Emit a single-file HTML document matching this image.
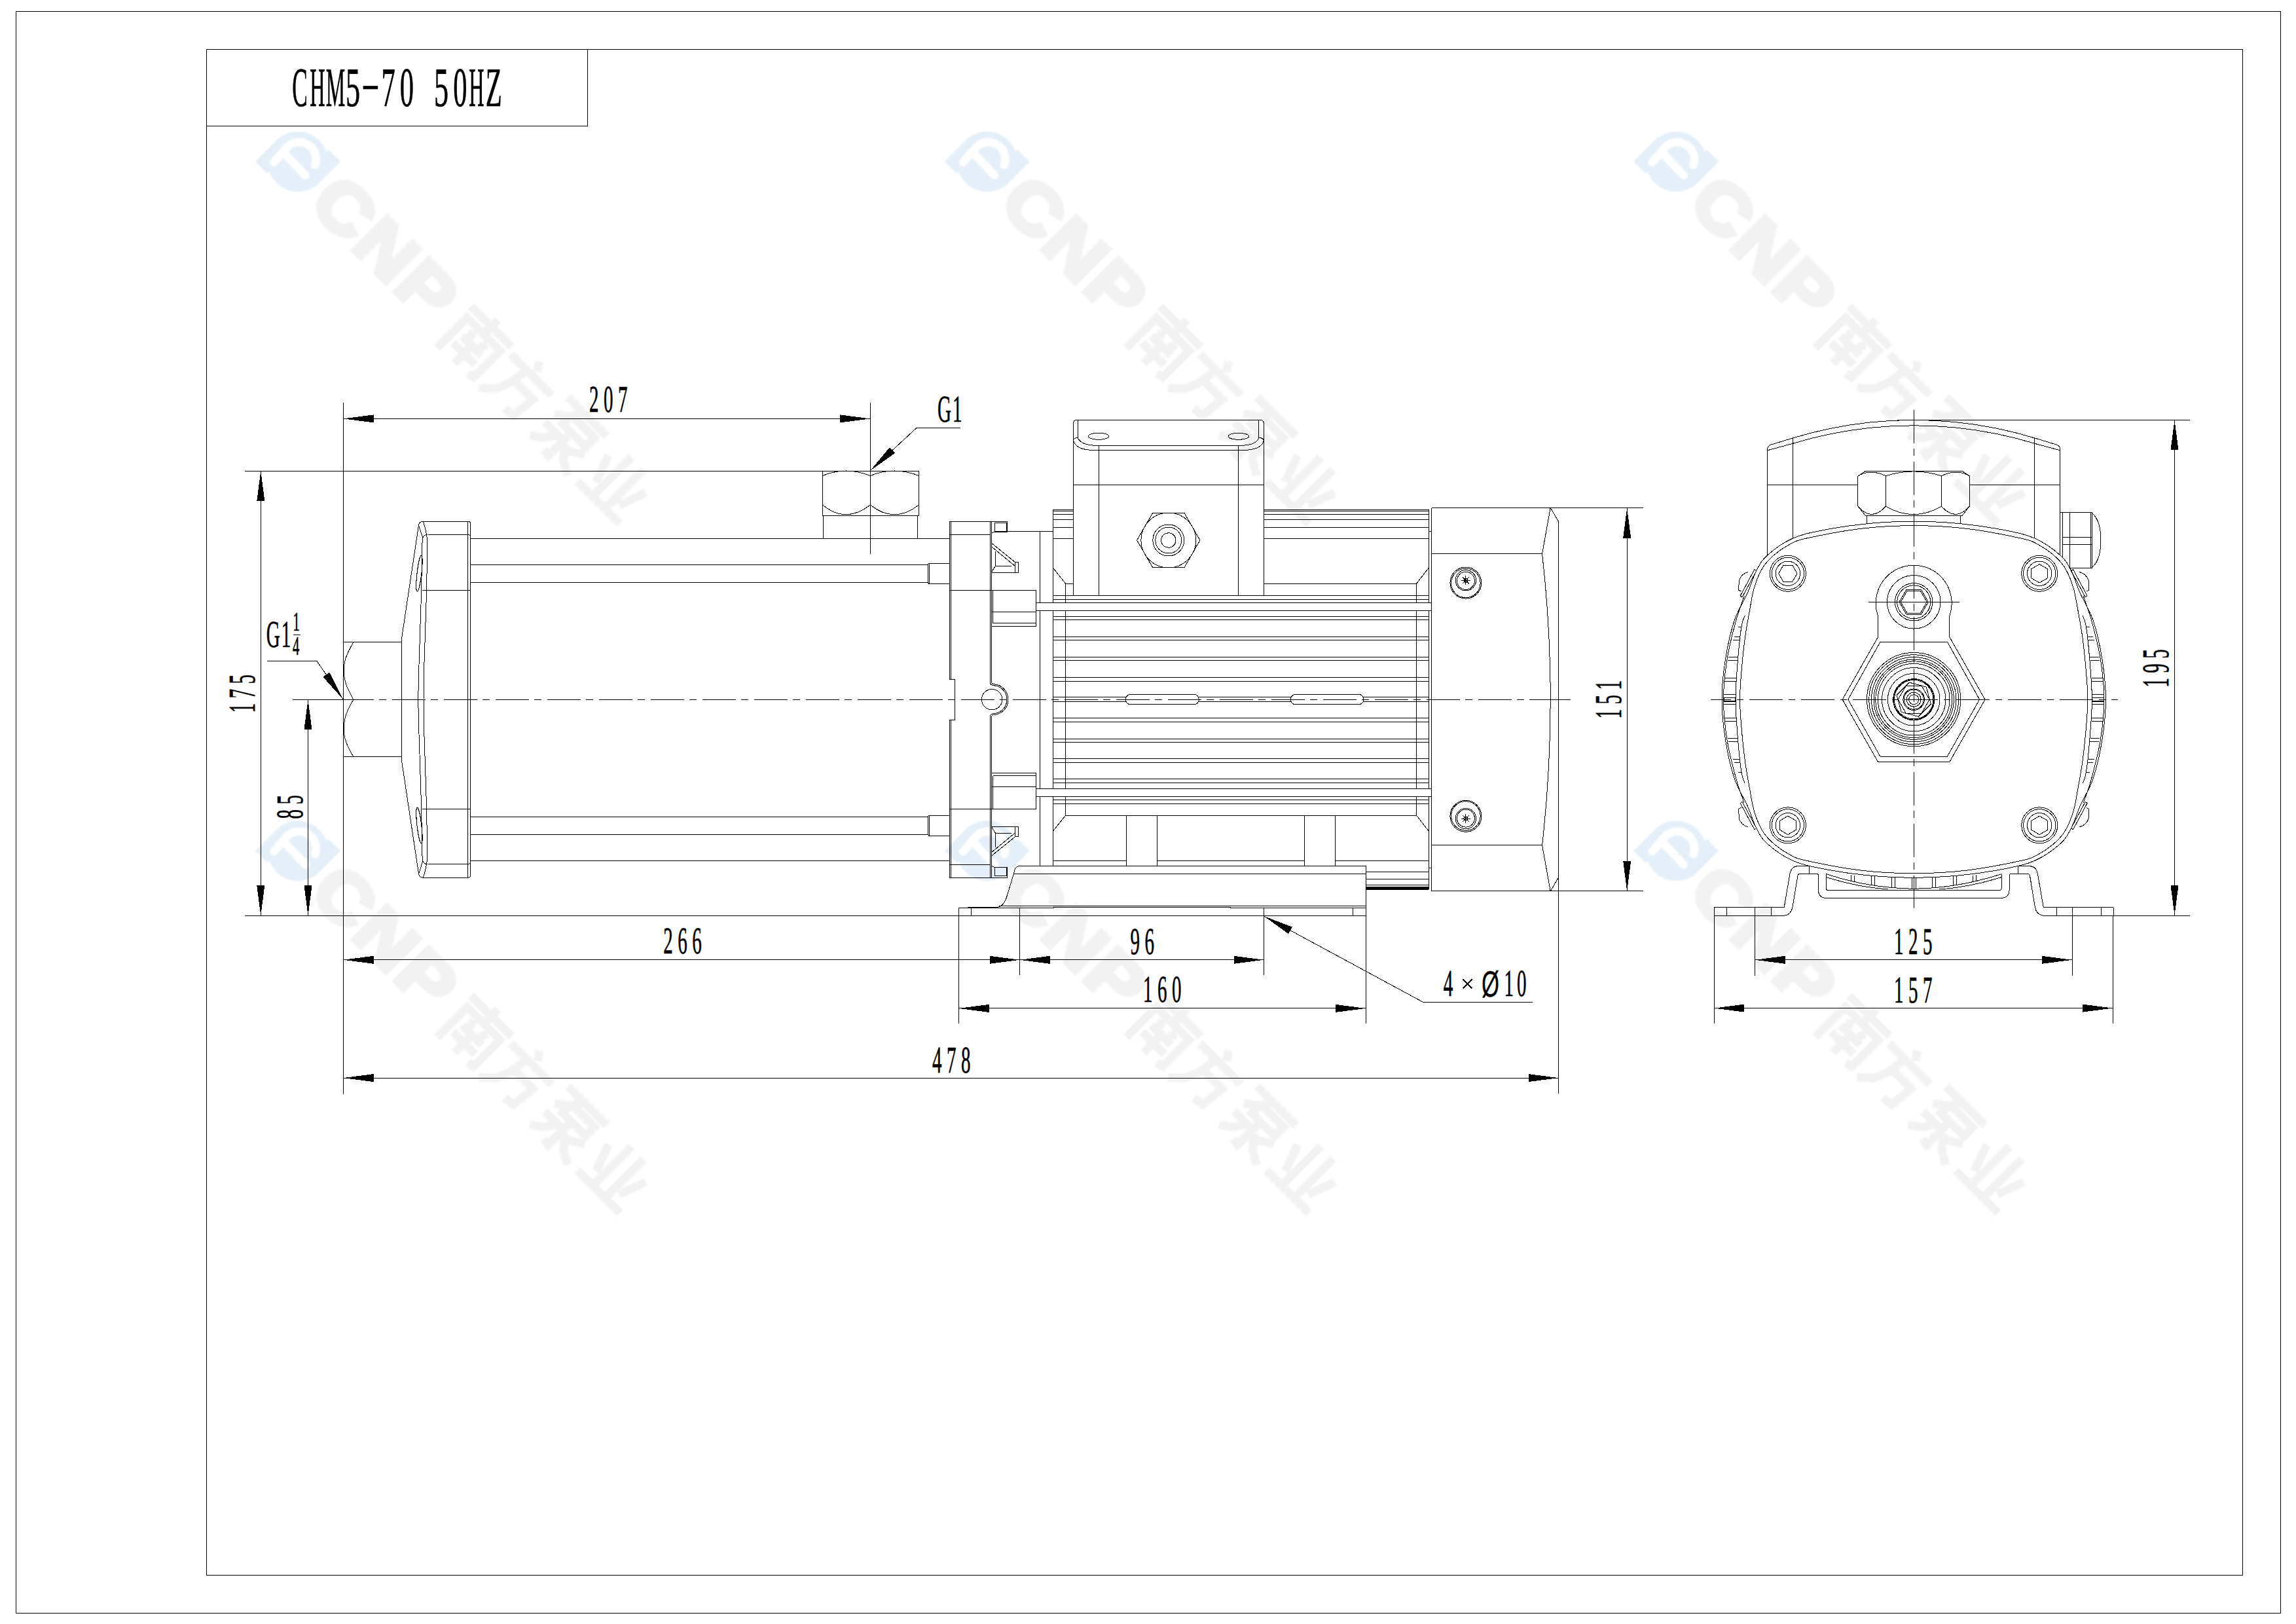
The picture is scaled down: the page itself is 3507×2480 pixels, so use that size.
<!DOCTYPE html>
<html><head><meta charset="utf-8"><title>CHM5-70 50HZ</title>
<style>
html,body{margin:0;padding:0;background:#fff;}
body{width:3507px;height:2480px;overflow:hidden;font-family:"Liberation Serif",serif;}
svg{display:block;}
svg text{font-family:"Liberation Serif",serif;fill:#000;stroke:#000;stroke-width:0.7px;text-rendering:geometricPrecision;}
svg .wm text{font-family:"Liberation Sans",sans-serif;font-weight:bold;}
</style></head><body>
<svg width="3507" height="2480" viewBox="0 0 3507 2480" fill="none" stroke="#000" stroke-width="1.0" stroke-linecap="butt" stroke-linejoin="miter" shape-rendering="crispEdges">
<rect x="0" y="0" width="3507" height="2480" fill="#fff" stroke="none"/>
<g shape-rendering="geometricPrecision">
<g class="wm" transform="translate(455 246.8) rotate(45)" style="filter:blur(1px)">
<circle cx="0" cy="0" r="46" fill="#e4eff9" stroke="none"/>
<path d="M-46 -9L-46 46L-20 46L-20 38Z M46 9L46 -46L20 -46L20 -38Z" fill="#e4eff9" stroke="none"/>
<g transform="rotate(-45)" stroke="#fff" stroke-width="12.5" stroke-linecap="round" fill="none"><path d="M-36.6 1L-16.7 -22A26 26 0 0 1 26.2 5.2"/><path d="M-18.8 -10.5L11.5 20.9"/></g>
<text transform="translate(58 36.5) scale(1.12 1)" font-size="106" letter-spacing="4" style="fill:#f2f2f2;stroke:#f2f2f2;stroke-width:7.5px;stroke-linejoin:miter">CNP</text>
<path d="M342.8 -30.6L431.2 -30.6" stroke="#f2f2f2" stroke-width="13" stroke-linejoin="miter" stroke-linecap="butt"/>
<path d="M387 -45L387 -16.2" stroke="#f2f2f2" stroke-width="13" stroke-linejoin="miter" stroke-linecap="butt"/>
<path d="M351.5 51L351.5 -14.3L422.5 -14.3L422.5 43.3L412 45.2" stroke="#f2f2f2" stroke-width="13" stroke-linejoin="miter" stroke-linecap="butt"/>
<path d="M371.6 -6.6L377.4 4.9" stroke="#f2f2f2" stroke-width="13" stroke-linejoin="miter" stroke-linecap="butt"/>
<path d="M402.4 -6.6L396.6 4.9" stroke="#f2f2f2" stroke-width="13" stroke-linejoin="miter" stroke-linecap="butt"/>
<path d="M365.9 10.7L408.1 10.7" stroke="#f2f2f2" stroke-width="13" stroke-linejoin="miter" stroke-linecap="butt"/>
<path d="M363 28L411 28" stroke="#f2f2f2" stroke-width="13" stroke-linejoin="miter" stroke-linecap="butt"/>
<path d="M387 10.7L387 49.1" stroke="#f2f2f2" stroke-width="13" stroke-linejoin="miter" stroke-linecap="butt"/>
<path d="M476.2 -45L485.8 -31.6" stroke="#f2f2f2" stroke-width="13" stroke-linejoin="miter" stroke-linecap="butt"/>
<path d="M437.8 -22L526.2 -22" stroke="#f2f2f2" stroke-width="13" stroke-linejoin="miter" stroke-linecap="butt"/>
<path d="M472.4 -22L468.6 7.8L459 31.8L439.8 49.1" stroke="#f2f2f2" stroke-width="13" stroke-linejoin="miter" stroke-linecap="butt"/>
<path d="M470.5 3L510.8 3L507 41.4L489.7 43.3" stroke="#f2f2f2" stroke-width="13" stroke-linejoin="miter" stroke-linecap="butt"/>
<path d="M545.8 -37.3L630.2 -37.3" stroke="#f2f2f2" stroke-width="13" stroke-linejoin="miter" stroke-linecap="butt"/>
<path d="M580.3 -37.3L568.8 -18.1L549.6 -4.7" stroke="#f2f2f2" stroke-width="13" stroke-linejoin="miter" stroke-linecap="butt"/>
<path d="M568.8 -22L618.7 -22L618.7 -2.8L568.8 -2.8L568.8 -22" stroke="#f2f2f2" stroke-width="13" stroke-linejoin="miter" stroke-linecap="butt"/>
<path d="M588 3L588 47.2L576.5 45.2" stroke="#f2f2f2" stroke-width="13" stroke-linejoin="miter" stroke-linecap="butt"/>
<path d="M547.7 14.5L576.5 14.5L563 33.7L545.8 45.2" stroke="#f2f2f2" stroke-width="13" stroke-linejoin="miter" stroke-linecap="butt"/>
<path d="M626.4 6.8L601.4 22.2" stroke="#f2f2f2" stroke-width="13" stroke-linejoin="miter" stroke-linecap="butt"/>
<path d="M593.8 16.4L609.1 35.6L630.2 48.1" stroke="#f2f2f2" stroke-width="13" stroke-linejoin="miter" stroke-linecap="butt"/>
<path d="M679.6 -41.2L679.6 41.4" stroke="#f2f2f2" stroke-width="13" stroke-linejoin="miter" stroke-linecap="butt"/>
<path d="M706.4 -41.2L706.4 41.4" stroke="#f2f2f2" stroke-width="13" stroke-linejoin="miter" stroke-linecap="butt"/>
<path d="M652.7 -18.1L668 24.1" stroke="#f2f2f2" stroke-width="13" stroke-linejoin="miter" stroke-linecap="butt"/>
<path d="M733.3 -18.1L718 24.1" stroke="#f2f2f2" stroke-width="13" stroke-linejoin="miter" stroke-linecap="butt"/>
<path d="M646.9 43.3L739.1 43.3" stroke="#f2f2f2" stroke-width="13" stroke-linejoin="miter" stroke-linecap="butt"/>
</g>
<g class="wm" transform="translate(1507.7 246.8) rotate(45)" style="filter:blur(1px)">
<circle cx="0" cy="0" r="46" fill="#e4eff9" stroke="none"/>
<path d="M-46 -9L-46 46L-20 46L-20 38Z M46 9L46 -46L20 -46L20 -38Z" fill="#e4eff9" stroke="none"/>
<g transform="rotate(-45)" stroke="#fff" stroke-width="12.5" stroke-linecap="round" fill="none"><path d="M-36.6 1L-16.7 -22A26 26 0 0 1 26.2 5.2"/><path d="M-18.8 -10.5L11.5 20.9"/></g>
<text transform="translate(58 36.5) scale(1.12 1)" font-size="106" letter-spacing="4" style="fill:#f2f2f2;stroke:#f2f2f2;stroke-width:7.5px;stroke-linejoin:miter">CNP</text>
<path d="M342.8 -30.6L431.2 -30.6" stroke="#f2f2f2" stroke-width="13" stroke-linejoin="miter" stroke-linecap="butt"/>
<path d="M387 -45L387 -16.2" stroke="#f2f2f2" stroke-width="13" stroke-linejoin="miter" stroke-linecap="butt"/>
<path d="M351.5 51L351.5 -14.3L422.5 -14.3L422.5 43.3L412 45.2" stroke="#f2f2f2" stroke-width="13" stroke-linejoin="miter" stroke-linecap="butt"/>
<path d="M371.6 -6.6L377.4 4.9" stroke="#f2f2f2" stroke-width="13" stroke-linejoin="miter" stroke-linecap="butt"/>
<path d="M402.4 -6.6L396.6 4.9" stroke="#f2f2f2" stroke-width="13" stroke-linejoin="miter" stroke-linecap="butt"/>
<path d="M365.9 10.7L408.1 10.7" stroke="#f2f2f2" stroke-width="13" stroke-linejoin="miter" stroke-linecap="butt"/>
<path d="M363 28L411 28" stroke="#f2f2f2" stroke-width="13" stroke-linejoin="miter" stroke-linecap="butt"/>
<path d="M387 10.7L387 49.1" stroke="#f2f2f2" stroke-width="13" stroke-linejoin="miter" stroke-linecap="butt"/>
<path d="M476.2 -45L485.8 -31.6" stroke="#f2f2f2" stroke-width="13" stroke-linejoin="miter" stroke-linecap="butt"/>
<path d="M437.8 -22L526.2 -22" stroke="#f2f2f2" stroke-width="13" stroke-linejoin="miter" stroke-linecap="butt"/>
<path d="M472.4 -22L468.6 7.8L459 31.8L439.8 49.1" stroke="#f2f2f2" stroke-width="13" stroke-linejoin="miter" stroke-linecap="butt"/>
<path d="M470.5 3L510.8 3L507 41.4L489.7 43.3" stroke="#f2f2f2" stroke-width="13" stroke-linejoin="miter" stroke-linecap="butt"/>
<path d="M545.8 -37.3L630.2 -37.3" stroke="#f2f2f2" stroke-width="13" stroke-linejoin="miter" stroke-linecap="butt"/>
<path d="M580.3 -37.3L568.8 -18.1L549.6 -4.7" stroke="#f2f2f2" stroke-width="13" stroke-linejoin="miter" stroke-linecap="butt"/>
<path d="M568.8 -22L618.7 -22L618.7 -2.8L568.8 -2.8L568.8 -22" stroke="#f2f2f2" stroke-width="13" stroke-linejoin="miter" stroke-linecap="butt"/>
<path d="M588 3L588 47.2L576.5 45.2" stroke="#f2f2f2" stroke-width="13" stroke-linejoin="miter" stroke-linecap="butt"/>
<path d="M547.7 14.5L576.5 14.5L563 33.7L545.8 45.2" stroke="#f2f2f2" stroke-width="13" stroke-linejoin="miter" stroke-linecap="butt"/>
<path d="M626.4 6.8L601.4 22.2" stroke="#f2f2f2" stroke-width="13" stroke-linejoin="miter" stroke-linecap="butt"/>
<path d="M593.8 16.4L609.1 35.6L630.2 48.1" stroke="#f2f2f2" stroke-width="13" stroke-linejoin="miter" stroke-linecap="butt"/>
<path d="M679.6 -41.2L679.6 41.4" stroke="#f2f2f2" stroke-width="13" stroke-linejoin="miter" stroke-linecap="butt"/>
<path d="M706.4 -41.2L706.4 41.4" stroke="#f2f2f2" stroke-width="13" stroke-linejoin="miter" stroke-linecap="butt"/>
<path d="M652.7 -18.1L668 24.1" stroke="#f2f2f2" stroke-width="13" stroke-linejoin="miter" stroke-linecap="butt"/>
<path d="M733.3 -18.1L718 24.1" stroke="#f2f2f2" stroke-width="13" stroke-linejoin="miter" stroke-linecap="butt"/>
<path d="M646.9 43.3L739.1 43.3" stroke="#f2f2f2" stroke-width="13" stroke-linejoin="miter" stroke-linecap="butt"/>
</g>
<g class="wm" transform="translate(2560.2 246.8) rotate(45)" style="filter:blur(1px)">
<circle cx="0" cy="0" r="46" fill="#e4eff9" stroke="none"/>
<path d="M-46 -9L-46 46L-20 46L-20 38Z M46 9L46 -46L20 -46L20 -38Z" fill="#e4eff9" stroke="none"/>
<g transform="rotate(-45)" stroke="#fff" stroke-width="12.5" stroke-linecap="round" fill="none"><path d="M-36.6 1L-16.7 -22A26 26 0 0 1 26.2 5.2"/><path d="M-18.8 -10.5L11.5 20.9"/></g>
<text transform="translate(58 36.5) scale(1.12 1)" font-size="106" letter-spacing="4" style="fill:#f2f2f2;stroke:#f2f2f2;stroke-width:7.5px;stroke-linejoin:miter">CNP</text>
<path d="M342.8 -30.6L431.2 -30.6" stroke="#f2f2f2" stroke-width="13" stroke-linejoin="miter" stroke-linecap="butt"/>
<path d="M387 -45L387 -16.2" stroke="#f2f2f2" stroke-width="13" stroke-linejoin="miter" stroke-linecap="butt"/>
<path d="M351.5 51L351.5 -14.3L422.5 -14.3L422.5 43.3L412 45.2" stroke="#f2f2f2" stroke-width="13" stroke-linejoin="miter" stroke-linecap="butt"/>
<path d="M371.6 -6.6L377.4 4.9" stroke="#f2f2f2" stroke-width="13" stroke-linejoin="miter" stroke-linecap="butt"/>
<path d="M402.4 -6.6L396.6 4.9" stroke="#f2f2f2" stroke-width="13" stroke-linejoin="miter" stroke-linecap="butt"/>
<path d="M365.9 10.7L408.1 10.7" stroke="#f2f2f2" stroke-width="13" stroke-linejoin="miter" stroke-linecap="butt"/>
<path d="M363 28L411 28" stroke="#f2f2f2" stroke-width="13" stroke-linejoin="miter" stroke-linecap="butt"/>
<path d="M387 10.7L387 49.1" stroke="#f2f2f2" stroke-width="13" stroke-linejoin="miter" stroke-linecap="butt"/>
<path d="M476.2 -45L485.8 -31.6" stroke="#f2f2f2" stroke-width="13" stroke-linejoin="miter" stroke-linecap="butt"/>
<path d="M437.8 -22L526.2 -22" stroke="#f2f2f2" stroke-width="13" stroke-linejoin="miter" stroke-linecap="butt"/>
<path d="M472.4 -22L468.6 7.8L459 31.8L439.8 49.1" stroke="#f2f2f2" stroke-width="13" stroke-linejoin="miter" stroke-linecap="butt"/>
<path d="M470.5 3L510.8 3L507 41.4L489.7 43.3" stroke="#f2f2f2" stroke-width="13" stroke-linejoin="miter" stroke-linecap="butt"/>
<path d="M545.8 -37.3L630.2 -37.3" stroke="#f2f2f2" stroke-width="13" stroke-linejoin="miter" stroke-linecap="butt"/>
<path d="M580.3 -37.3L568.8 -18.1L549.6 -4.7" stroke="#f2f2f2" stroke-width="13" stroke-linejoin="miter" stroke-linecap="butt"/>
<path d="M568.8 -22L618.7 -22L618.7 -2.8L568.8 -2.8L568.8 -22" stroke="#f2f2f2" stroke-width="13" stroke-linejoin="miter" stroke-linecap="butt"/>
<path d="M588 3L588 47.2L576.5 45.2" stroke="#f2f2f2" stroke-width="13" stroke-linejoin="miter" stroke-linecap="butt"/>
<path d="M547.7 14.5L576.5 14.5L563 33.7L545.8 45.2" stroke="#f2f2f2" stroke-width="13" stroke-linejoin="miter" stroke-linecap="butt"/>
<path d="M626.4 6.8L601.4 22.2" stroke="#f2f2f2" stroke-width="13" stroke-linejoin="miter" stroke-linecap="butt"/>
<path d="M593.8 16.4L609.1 35.6L630.2 48.1" stroke="#f2f2f2" stroke-width="13" stroke-linejoin="miter" stroke-linecap="butt"/>
<path d="M679.6 -41.2L679.6 41.4" stroke="#f2f2f2" stroke-width="13" stroke-linejoin="miter" stroke-linecap="butt"/>
<path d="M706.4 -41.2L706.4 41.4" stroke="#f2f2f2" stroke-width="13" stroke-linejoin="miter" stroke-linecap="butt"/>
<path d="M652.7 -18.1L668 24.1" stroke="#f2f2f2" stroke-width="13" stroke-linejoin="miter" stroke-linecap="butt"/>
<path d="M733.3 -18.1L718 24.1" stroke="#f2f2f2" stroke-width="13" stroke-linejoin="miter" stroke-linecap="butt"/>
<path d="M646.9 43.3L739.1 43.3" stroke="#f2f2f2" stroke-width="13" stroke-linejoin="miter" stroke-linecap="butt"/>
</g>
<g class="wm" transform="translate(455 1299.3) rotate(45)" style="filter:blur(1px)">
<circle cx="0" cy="0" r="46" fill="#e4eff9" stroke="none"/>
<path d="M-46 -9L-46 46L-20 46L-20 38Z M46 9L46 -46L20 -46L20 -38Z" fill="#e4eff9" stroke="none"/>
<g transform="rotate(-45)" stroke="#fff" stroke-width="12.5" stroke-linecap="round" fill="none"><path d="M-36.6 1L-16.7 -22A26 26 0 0 1 26.2 5.2"/><path d="M-18.8 -10.5L11.5 20.9"/></g>
<text transform="translate(58 36.5) scale(1.12 1)" font-size="106" letter-spacing="4" style="fill:#f2f2f2;stroke:#f2f2f2;stroke-width:7.5px;stroke-linejoin:miter">CNP</text>
<path d="M342.8 -30.6L431.2 -30.6" stroke="#f2f2f2" stroke-width="13" stroke-linejoin="miter" stroke-linecap="butt"/>
<path d="M387 -45L387 -16.2" stroke="#f2f2f2" stroke-width="13" stroke-linejoin="miter" stroke-linecap="butt"/>
<path d="M351.5 51L351.5 -14.3L422.5 -14.3L422.5 43.3L412 45.2" stroke="#f2f2f2" stroke-width="13" stroke-linejoin="miter" stroke-linecap="butt"/>
<path d="M371.6 -6.6L377.4 4.9" stroke="#f2f2f2" stroke-width="13" stroke-linejoin="miter" stroke-linecap="butt"/>
<path d="M402.4 -6.6L396.6 4.9" stroke="#f2f2f2" stroke-width="13" stroke-linejoin="miter" stroke-linecap="butt"/>
<path d="M365.9 10.7L408.1 10.7" stroke="#f2f2f2" stroke-width="13" stroke-linejoin="miter" stroke-linecap="butt"/>
<path d="M363 28L411 28" stroke="#f2f2f2" stroke-width="13" stroke-linejoin="miter" stroke-linecap="butt"/>
<path d="M387 10.7L387 49.1" stroke="#f2f2f2" stroke-width="13" stroke-linejoin="miter" stroke-linecap="butt"/>
<path d="M476.2 -45L485.8 -31.6" stroke="#f2f2f2" stroke-width="13" stroke-linejoin="miter" stroke-linecap="butt"/>
<path d="M437.8 -22L526.2 -22" stroke="#f2f2f2" stroke-width="13" stroke-linejoin="miter" stroke-linecap="butt"/>
<path d="M472.4 -22L468.6 7.8L459 31.8L439.8 49.1" stroke="#f2f2f2" stroke-width="13" stroke-linejoin="miter" stroke-linecap="butt"/>
<path d="M470.5 3L510.8 3L507 41.4L489.7 43.3" stroke="#f2f2f2" stroke-width="13" stroke-linejoin="miter" stroke-linecap="butt"/>
<path d="M545.8 -37.3L630.2 -37.3" stroke="#f2f2f2" stroke-width="13" stroke-linejoin="miter" stroke-linecap="butt"/>
<path d="M580.3 -37.3L568.8 -18.1L549.6 -4.7" stroke="#f2f2f2" stroke-width="13" stroke-linejoin="miter" stroke-linecap="butt"/>
<path d="M568.8 -22L618.7 -22L618.7 -2.8L568.8 -2.8L568.8 -22" stroke="#f2f2f2" stroke-width="13" stroke-linejoin="miter" stroke-linecap="butt"/>
<path d="M588 3L588 47.2L576.5 45.2" stroke="#f2f2f2" stroke-width="13" stroke-linejoin="miter" stroke-linecap="butt"/>
<path d="M547.7 14.5L576.5 14.5L563 33.7L545.8 45.2" stroke="#f2f2f2" stroke-width="13" stroke-linejoin="miter" stroke-linecap="butt"/>
<path d="M626.4 6.8L601.4 22.2" stroke="#f2f2f2" stroke-width="13" stroke-linejoin="miter" stroke-linecap="butt"/>
<path d="M593.8 16.4L609.1 35.6L630.2 48.1" stroke="#f2f2f2" stroke-width="13" stroke-linejoin="miter" stroke-linecap="butt"/>
<path d="M679.6 -41.2L679.6 41.4" stroke="#f2f2f2" stroke-width="13" stroke-linejoin="miter" stroke-linecap="butt"/>
<path d="M706.4 -41.2L706.4 41.4" stroke="#f2f2f2" stroke-width="13" stroke-linejoin="miter" stroke-linecap="butt"/>
<path d="M652.7 -18.1L668 24.1" stroke="#f2f2f2" stroke-width="13" stroke-linejoin="miter" stroke-linecap="butt"/>
<path d="M733.3 -18.1L718 24.1" stroke="#f2f2f2" stroke-width="13" stroke-linejoin="miter" stroke-linecap="butt"/>
<path d="M646.9 43.3L739.1 43.3" stroke="#f2f2f2" stroke-width="13" stroke-linejoin="miter" stroke-linecap="butt"/>
</g>
<g class="wm" transform="translate(1507.7 1299.3) rotate(45)" style="filter:blur(1px)">
<circle cx="0" cy="0" r="46" fill="#e4eff9" stroke="none"/>
<path d="M-46 -9L-46 46L-20 46L-20 38Z M46 9L46 -46L20 -46L20 -38Z" fill="#e4eff9" stroke="none"/>
<g transform="rotate(-45)" stroke="#fff" stroke-width="12.5" stroke-linecap="round" fill="none"><path d="M-36.6 1L-16.7 -22A26 26 0 0 1 26.2 5.2"/><path d="M-18.8 -10.5L11.5 20.9"/></g>
<text transform="translate(58 36.5) scale(1.12 1)" font-size="106" letter-spacing="4" style="fill:#f2f2f2;stroke:#f2f2f2;stroke-width:7.5px;stroke-linejoin:miter">CNP</text>
<path d="M342.8 -30.6L431.2 -30.6" stroke="#f2f2f2" stroke-width="13" stroke-linejoin="miter" stroke-linecap="butt"/>
<path d="M387 -45L387 -16.2" stroke="#f2f2f2" stroke-width="13" stroke-linejoin="miter" stroke-linecap="butt"/>
<path d="M351.5 51L351.5 -14.3L422.5 -14.3L422.5 43.3L412 45.2" stroke="#f2f2f2" stroke-width="13" stroke-linejoin="miter" stroke-linecap="butt"/>
<path d="M371.6 -6.6L377.4 4.9" stroke="#f2f2f2" stroke-width="13" stroke-linejoin="miter" stroke-linecap="butt"/>
<path d="M402.4 -6.6L396.6 4.9" stroke="#f2f2f2" stroke-width="13" stroke-linejoin="miter" stroke-linecap="butt"/>
<path d="M365.9 10.7L408.1 10.7" stroke="#f2f2f2" stroke-width="13" stroke-linejoin="miter" stroke-linecap="butt"/>
<path d="M363 28L411 28" stroke="#f2f2f2" stroke-width="13" stroke-linejoin="miter" stroke-linecap="butt"/>
<path d="M387 10.7L387 49.1" stroke="#f2f2f2" stroke-width="13" stroke-linejoin="miter" stroke-linecap="butt"/>
<path d="M476.2 -45L485.8 -31.6" stroke="#f2f2f2" stroke-width="13" stroke-linejoin="miter" stroke-linecap="butt"/>
<path d="M437.8 -22L526.2 -22" stroke="#f2f2f2" stroke-width="13" stroke-linejoin="miter" stroke-linecap="butt"/>
<path d="M472.4 -22L468.6 7.8L459 31.8L439.8 49.1" stroke="#f2f2f2" stroke-width="13" stroke-linejoin="miter" stroke-linecap="butt"/>
<path d="M470.5 3L510.8 3L507 41.4L489.7 43.3" stroke="#f2f2f2" stroke-width="13" stroke-linejoin="miter" stroke-linecap="butt"/>
<path d="M545.8 -37.3L630.2 -37.3" stroke="#f2f2f2" stroke-width="13" stroke-linejoin="miter" stroke-linecap="butt"/>
<path d="M580.3 -37.3L568.8 -18.1L549.6 -4.7" stroke="#f2f2f2" stroke-width="13" stroke-linejoin="miter" stroke-linecap="butt"/>
<path d="M568.8 -22L618.7 -22L618.7 -2.8L568.8 -2.8L568.8 -22" stroke="#f2f2f2" stroke-width="13" stroke-linejoin="miter" stroke-linecap="butt"/>
<path d="M588 3L588 47.2L576.5 45.2" stroke="#f2f2f2" stroke-width="13" stroke-linejoin="miter" stroke-linecap="butt"/>
<path d="M547.7 14.5L576.5 14.5L563 33.7L545.8 45.2" stroke="#f2f2f2" stroke-width="13" stroke-linejoin="miter" stroke-linecap="butt"/>
<path d="M626.4 6.8L601.4 22.2" stroke="#f2f2f2" stroke-width="13" stroke-linejoin="miter" stroke-linecap="butt"/>
<path d="M593.8 16.4L609.1 35.6L630.2 48.1" stroke="#f2f2f2" stroke-width="13" stroke-linejoin="miter" stroke-linecap="butt"/>
<path d="M679.6 -41.2L679.6 41.4" stroke="#f2f2f2" stroke-width="13" stroke-linejoin="miter" stroke-linecap="butt"/>
<path d="M706.4 -41.2L706.4 41.4" stroke="#f2f2f2" stroke-width="13" stroke-linejoin="miter" stroke-linecap="butt"/>
<path d="M652.7 -18.1L668 24.1" stroke="#f2f2f2" stroke-width="13" stroke-linejoin="miter" stroke-linecap="butt"/>
<path d="M733.3 -18.1L718 24.1" stroke="#f2f2f2" stroke-width="13" stroke-linejoin="miter" stroke-linecap="butt"/>
<path d="M646.9 43.3L739.1 43.3" stroke="#f2f2f2" stroke-width="13" stroke-linejoin="miter" stroke-linecap="butt"/>
</g>
<g class="wm" transform="translate(2560.2 1299.3) rotate(45)" style="filter:blur(1px)">
<circle cx="0" cy="0" r="46" fill="#e4eff9" stroke="none"/>
<path d="M-46 -9L-46 46L-20 46L-20 38Z M46 9L46 -46L20 -46L20 -38Z" fill="#e4eff9" stroke="none"/>
<g transform="rotate(-45)" stroke="#fff" stroke-width="12.5" stroke-linecap="round" fill="none"><path d="M-36.6 1L-16.7 -22A26 26 0 0 1 26.2 5.2"/><path d="M-18.8 -10.5L11.5 20.9"/></g>
<text transform="translate(58 36.5) scale(1.12 1)" font-size="106" letter-spacing="4" style="fill:#f2f2f2;stroke:#f2f2f2;stroke-width:7.5px;stroke-linejoin:miter">CNP</text>
<path d="M342.8 -30.6L431.2 -30.6" stroke="#f2f2f2" stroke-width="13" stroke-linejoin="miter" stroke-linecap="butt"/>
<path d="M387 -45L387 -16.2" stroke="#f2f2f2" stroke-width="13" stroke-linejoin="miter" stroke-linecap="butt"/>
<path d="M351.5 51L351.5 -14.3L422.5 -14.3L422.5 43.3L412 45.2" stroke="#f2f2f2" stroke-width="13" stroke-linejoin="miter" stroke-linecap="butt"/>
<path d="M371.6 -6.6L377.4 4.9" stroke="#f2f2f2" stroke-width="13" stroke-linejoin="miter" stroke-linecap="butt"/>
<path d="M402.4 -6.6L396.6 4.9" stroke="#f2f2f2" stroke-width="13" stroke-linejoin="miter" stroke-linecap="butt"/>
<path d="M365.9 10.7L408.1 10.7" stroke="#f2f2f2" stroke-width="13" stroke-linejoin="miter" stroke-linecap="butt"/>
<path d="M363 28L411 28" stroke="#f2f2f2" stroke-width="13" stroke-linejoin="miter" stroke-linecap="butt"/>
<path d="M387 10.7L387 49.1" stroke="#f2f2f2" stroke-width="13" stroke-linejoin="miter" stroke-linecap="butt"/>
<path d="M476.2 -45L485.8 -31.6" stroke="#f2f2f2" stroke-width="13" stroke-linejoin="miter" stroke-linecap="butt"/>
<path d="M437.8 -22L526.2 -22" stroke="#f2f2f2" stroke-width="13" stroke-linejoin="miter" stroke-linecap="butt"/>
<path d="M472.4 -22L468.6 7.8L459 31.8L439.8 49.1" stroke="#f2f2f2" stroke-width="13" stroke-linejoin="miter" stroke-linecap="butt"/>
<path d="M470.5 3L510.8 3L507 41.4L489.7 43.3" stroke="#f2f2f2" stroke-width="13" stroke-linejoin="miter" stroke-linecap="butt"/>
<path d="M545.8 -37.3L630.2 -37.3" stroke="#f2f2f2" stroke-width="13" stroke-linejoin="miter" stroke-linecap="butt"/>
<path d="M580.3 -37.3L568.8 -18.1L549.6 -4.7" stroke="#f2f2f2" stroke-width="13" stroke-linejoin="miter" stroke-linecap="butt"/>
<path d="M568.8 -22L618.7 -22L618.7 -2.8L568.8 -2.8L568.8 -22" stroke="#f2f2f2" stroke-width="13" stroke-linejoin="miter" stroke-linecap="butt"/>
<path d="M588 3L588 47.2L576.5 45.2" stroke="#f2f2f2" stroke-width="13" stroke-linejoin="miter" stroke-linecap="butt"/>
<path d="M547.7 14.5L576.5 14.5L563 33.7L545.8 45.2" stroke="#f2f2f2" stroke-width="13" stroke-linejoin="miter" stroke-linecap="butt"/>
<path d="M626.4 6.8L601.4 22.2" stroke="#f2f2f2" stroke-width="13" stroke-linejoin="miter" stroke-linecap="butt"/>
<path d="M593.8 16.4L609.1 35.6L630.2 48.1" stroke="#f2f2f2" stroke-width="13" stroke-linejoin="miter" stroke-linecap="butt"/>
<path d="M679.6 -41.2L679.6 41.4" stroke="#f2f2f2" stroke-width="13" stroke-linejoin="miter" stroke-linecap="butt"/>
<path d="M706.4 -41.2L706.4 41.4" stroke="#f2f2f2" stroke-width="13" stroke-linejoin="miter" stroke-linecap="butt"/>
<path d="M652.7 -18.1L668 24.1" stroke="#f2f2f2" stroke-width="13" stroke-linejoin="miter" stroke-linecap="butt"/>
<path d="M733.3 -18.1L718 24.1" stroke="#f2f2f2" stroke-width="13" stroke-linejoin="miter" stroke-linecap="butt"/>
<path d="M646.9 43.3L739.1 43.3" stroke="#f2f2f2" stroke-width="13" stroke-linejoin="miter" stroke-linecap="butt"/>
</g>
</g>
<rect x="24.5" y="17.5" width="3459" height="2446"/>
<rect x="315" y="75.4" width="3110.2" height="2329.7"/>
<path d="M315 192.6L897.5 192.6L897.5 75.4"/>
<path d="M524.5 980.7L613.3 980.7"/>
<path d="M524.5 1155.7L613.3 1155.7"/>
<path d="M539.8 980.7C527 1003 525 1012 525.3 1025C525.6 1040 529 1049 539.8 1068.2"/>
<path d="M639.5 802.2L613.3 976.3"/>
<path d="M639.5 802.2Q640 796.2 646.5 796.2L715.5 796.2Q718.6 796.4 718.6 800"/>
<path d="M653.5 816.5L716.5 816.5L718.6 819"/>
<path d="M645.5 822Q647 816.7 653.5 816.5"/>
<path d="M645 901.4L718.6 901.4"/>
<path d="M639.5 802.2Q643 812 645.2 820L643.4 911L640 1015L638.7 1068.2"/>
<path d="M646.5 796.6Q651 810 653 827L651.3 911L647.9 1015L647 1068.2"/>
<ellipse cx="640.4" cy="875.8" rx="3.4" ry="27.5" transform="rotate(6.5 640.4 875.8)"/>
<path d="M718.6 822.4L1450.4 822.4"/>
<path d="M718.6 862.4L1417.2 862.4"/>
<path d="M718.6 889.4L1417.2 889.4"/>
<path d="M1450.4 860L1419 860L1417.2 862L1417.2 889.6L1419 891.4L1450.4 891.4"/>
<path d="M1419 860L1419 891.4"/>
<path d="M1450.4 796.4L1538.4 796.4"/>
<path d="M1450.4 816.3L1512 816.3"/>
<path d="M1450.4 901.4L1514 901.4"/>
<path d="M1538.4 796.4L1538.4 812.1L1519 812.1L1514 814.5"/>
<rect x="1519.3" y="798.5" width="18.3" height="13.1"/>
<path d="M1514 829L1550.7 858.7L1555.4 858.7L1555.4 874.4L1514 874.4"/>
<path d="M1515.3 835.5L1550.5 864.5"/>
<path d="M1520.6 842L1520.6 864L1545.4 864"/>
<path d="M1514 874.4L1520.6 864"/>
<path d="M1550.7 858.7L1550.7 874.4"/>
<path d="M1514 901.4L1582.6 901.4L1582.6 956.3L1514 956.3"/>
<path d="M1514 934.6L1582.6 934.6"/>
<path d="M1516.7 951.6L1582.6 951.6"/>
<path d="M1516.7 901.4L1516.7 951.6"/>
<path d="M1608.3 867L1627.5 891.2"/>
<path d="M2163.6 891.2L2182.4 867"/>
<path d="M1608.3 909.3L2182.4 909.3"/>
<path d="M1608.3 915.2L2182.4 915.2"/>
<path d="M1608.3 941.3L2182.4 941.3"/>
<path d="M1608.3 946.6L2182.4 946.6"/>
<path d="M1608.3 972.4L2182.4 972.4"/>
<path d="M1608.3 977.7L2182.4 977.7"/>
<path d="M1608.3 1003.1L2182.4 1003.1"/>
<path d="M1608.3 1008.4L2182.4 1008.4"/>
<path d="M1608.3 1034L2182.4 1034"/>
<path d="M1608.3 1040.2L2182.4 1040.2"/>
<path d="M1608.3 1064.7L2182.4 1064.7"/>
<path d="M1608.3 1071.7L2182.4 1071.7"/>
<path d="M2186.8 845.6L2355.6 845.6"/>
<path d="M2368.2 775.5L2380.5 796.4"/>
<path d="M2368.2 775.5L2355.6 845.6"/>
<path d="M2182.4 811.2L2186.8 811.2"/>
<circle cx="2238.9" cy="890.1" r="24"/>
<circle cx="2238.9" cy="890.4" r="22.3"/>
<circle cx="2238.9" cy="886.3" r="15.7"/>
<circle cx="2238.9" cy="886.8" r="13.5"/>
<path d="M2232 886.3L2246 886.3M2238.9 879.3L2238.9 893.3M2234 881.3L2243.8 891.3M2243.8 881.3L2234 891.3"/>
<circle cx="2238.9" cy="886.3" r="3"/>
<path d="M539.8 1155.7C527 1133.4 525 1124.4 525.3 1111.4C525.6 1096.4 529 1087.4 539.8 1068.2"/>
<path d="M639.5 1334.2L613.3 1160.1"/>
<path d="M639.5 1334.2Q640 1340.2 646.5 1340.2L715.5 1340.2Q718.6 1340 718.6 1336.4"/>
<path d="M653.5 1319.9L716.5 1319.9L718.6 1317.4"/>
<path d="M645.5 1314.4Q647 1319.7 653.5 1319.9"/>
<path d="M645 1235L718.6 1235"/>
<path d="M639.5 1334.2Q643 1324.4 645.2 1316.4L643.4 1225.4L640 1121.4L638.7 1068.2"/>
<path d="M646.5 1339.8Q651 1326.4 653 1309.4L651.3 1225.4L647.9 1121.4L647 1068.2"/>
<ellipse cx="640.4" cy="1260.6" rx="3.4" ry="27.5" transform="rotate(-6.5 640.4 1260.6)"/>
<path d="M718.6 1314L1450.4 1314"/>
<path d="M718.6 1274L1417.2 1274"/>
<path d="M718.6 1247L1417.2 1247"/>
<path d="M1450.4 1276.4L1419 1276.4L1417.2 1274.4L1417.2 1246.8L1419 1245L1450.4 1245"/>
<path d="M1419 1276.4L1419 1245"/>
<path d="M1450.4 1340L1538.4 1340"/>
<path d="M1450.4 1320.1L1512 1320.1"/>
<path d="M1450.4 1235L1514 1235"/>
<path d="M1538.4 1340L1538.4 1324.3L1519 1324.3L1514 1321.9"/>
<rect x="1519.3" y="1324.8" width="18.3" height="13.1"/>
<path d="M1514 1307.4L1550.7 1277.7L1555.4 1277.7L1555.4 1262L1514 1262"/>
<path d="M1515.3 1300.9L1550.5 1271.9"/>
<path d="M1520.6 1294.4L1520.6 1272.4L1545.4 1272.4"/>
<path d="M1514 1262L1520.6 1272.4"/>
<path d="M1550.7 1277.7L1550.7 1262"/>
<path d="M1514 1235L1582.6 1235L1582.6 1180.1L1514 1180.1"/>
<path d="M1514 1201.8L1582.6 1201.8"/>
<path d="M1516.7 1184.8L1582.6 1184.8"/>
<path d="M1516.7 1235L1516.7 1184.8"/>
<path d="M1608.3 1269.4L1627.5 1245.2"/>
<path d="M2163.6 1245.2L2182.4 1269.4"/>
<path d="M1608.3 1227.1L2182.4 1227.1"/>
<path d="M1608.3 1221.2L2182.4 1221.2"/>
<path d="M1608.3 1195.1L2182.4 1195.1"/>
<path d="M1608.3 1189.8L2182.4 1189.8"/>
<path d="M1608.3 1164L2182.4 1164"/>
<path d="M1608.3 1158.7L2182.4 1158.7"/>
<path d="M1608.3 1133.3L2182.4 1133.3"/>
<path d="M1608.3 1128L2182.4 1128"/>
<path d="M1608.3 1102.4L2182.4 1102.4"/>
<path d="M1608.3 1096.2L2182.4 1096.2"/>
<path d="M1608.3 1071.7L2182.4 1071.7"/>
<path d="M1608.3 1064.7L2182.4 1064.7"/>
<path d="M2186.8 1290.8L2355.6 1290.8"/>
<path d="M2368.2 1360.9L2380.5 1340"/>
<path d="M2368.2 1360.9L2355.6 1290.8"/>
<path d="M2182.4 1325.2L2186.8 1325.2"/>
<circle cx="2238.9" cy="1246.3" r="24"/>
<circle cx="2238.9" cy="1246" r="22.3"/>
<circle cx="2238.9" cy="1250.1" r="15.7"/>
<circle cx="2238.9" cy="1249.6" r="13.5"/>
<path d="M2232 1250.1L2246 1250.1M2238.9 1243.1L2238.9 1257.1M2234 1245.1L2243.8 1255.1M2243.8 1245.1L2234 1255.1"/>
<circle cx="2238.9" cy="1250.1" r="3"/>
<path d="M1627.5 1245.2L2163.6 1245.2"/>
<path d="M613.3 976.3L613.3 1160.1"/>
<path d="M714.4 796.2L714.4 1340.2"/>
<path d="M718.6 800L718.6 1336.4"/>
<rect x="1256.5" y="719" width="147.1" height="68.5"/>
<path d="M1256.5 726.5Q1292 711.5 1329.3 726.5Q1366 711.5 1403.6 726.5"/>
<path d="M1256.5 771Q1292 800.5 1329.3 771Q1366 800.5 1403.6 771"/>
<path d="M1257.6 787.5L1257.6 822.4"/>
<path d="M1401.5 787.5L1401.5 822.4"/>
<path d="M1329.3 614.8L1329.3 846.4"/>
<path d="M1450.4 796.4L1450.4 1037.2L1458.4 1037.2L1458.4 1099.4L1450.4 1099.4L1450.4 1340"/>
<path d="M1452.5 796.4L1452.5 1037.2"/>
<path d="M1452.5 1099.4L1452.5 1340"/>
<path d="M1450.4 1340L1538.7 1340"/>
<path d="M1512 796.4L1512 1040.7Q1512 1045.7 1516.5 1046.7A21.5 21.5 0 0 1 1516.5 1089.7Q1512 1090.7 1512 1095.7L1512 1340"/>
<path d="M1514 796.4L1514 1038.7Q1514 1043.7 1516.5 1044.7A23.5 23.5 0 0 1 1516.5 1091.7Q1514 1092.7 1514 1097.7L1514 1340"/>
<circle cx="1515.1" cy="1068.2" r="15.7"/>
<path d="M1538.4 811.3L1608.3 811.3"/>
<path d="M1588.6 811.3L1588.6 1322.3"/>
<path d="M1608.3 778.4L1608.3 1322.3"/>
<path d="M2182.4 778.4L2182.4 1358"/>
<path d="M1627.5 891.2L1627.5 1245.2"/>
<path d="M2163.6 891.2L2163.6 1245.2"/>
<path d="M1627.5 891.2L1639.3 891.2"/>
<path d="M1930.5 891.2L2163.6 891.2"/>
<path d="M1608.3 778.4L1639.3 778.4"/>
<path d="M1930.5 778.4L2182.4 778.4"/>
<path d="M2086 1358L2182.4 1358"/>
<path d="M1608.3 780.5L1639.3 780.5"/>
<path d="M1930.5 780.5L2182.4 780.5"/>
<path d="M2086 1355.9L2182.4 1355.9"/>
<path d="M1608.3 785.4L1639.3 785.4"/>
<path d="M1930.5 785.4L2182.4 785.4"/>
<path d="M2086 1351L2182.4 1351"/>
<path d="M1608.3 793.5L1639.3 793.5"/>
<path d="M1930.5 793.5L2182.4 793.5"/>
<path d="M2086 1342.9L2182.4 1342.9"/>
<path d="M1608.3 805.2L1639.3 805.2"/>
<path d="M1930.5 805.2L2182.4 805.2"/>
<path d="M2086 1331.2L2182.4 1331.2"/>
<path d="M1608.3 822.3L1639.3 822.3"/>
<path d="M1930.5 822.3L2182.4 822.3"/>
<rect x="2086" y="1354.5" width="96.4" height="3" fill="#000"/>
<path d="M1608.3 1314.4L1720.6 1314.4"/>
<path d="M1767.7 1314.4L1992.7 1314.4"/>
<path d="M2039.5 1314.4L2182.4 1314.4"/>
<path d="M1720.6 1245.2L1720.6 1322.3"/>
<path d="M1767.7 1245.2L1767.7 1322.3"/>
<path d="M1992.7 1245.2L1992.7 1322.3"/>
<path d="M2039.5 1245.2L2039.5 1322.3"/>
<rect x="1582.6" y="920.3" width="604.2" height="12.1" fill="#fff"/>
<rect x="1582.6" y="1204" width="604.2" height="12.1" fill="#fff"/>
<rect x="1719.3" y="1060.3" width="112" height="15.6" rx="7.8" fill="#fff"/>
<rect x="1971.3" y="1060.3" width="111.7" height="15.6" rx="7.8" fill="#fff"/>
<path d="M1639.3 909.3L1639.3 647.5Q1639.3 641 1646 641L1924 641Q1930.5 641 1930.5 647.5L1930.5 909.3"/>
<path d="M1646.3 641L1646.3 668"/>
<path d="M1922.9 641L1922.9 668"/>
<path d="M1646.3 668Q1650 680.5 1678.5 680.5L1891.5 680.5Q1920 680.5 1922.9 668"/>
<path d="M1639.3 670.5Q1641 687.5 1672 687.5L1898 687.5Q1929 687.5 1930.5 670.5"/>
<path d="M1646.3 668Q1641 669 1639.3 672M1922.9 668Q1928.5 669 1930.5 672"/>
<path d="M1678.5 680.5L1678.5 909.3"/>
<path d="M1891.6 680.5L1891.6 909.3"/>
<path d="M1639.3 740.4L1930.5 740.4"/>
<ellipse cx="1678" cy="666.3" rx="15.7" ry="5"/>
<ellipse cx="1891.8" cy="666.3" rx="15.7" ry="5"/>
<path d="M1833 825L1808.9 866.7L1760.7 866.7L1736.6 825L1760.7 783.3L1808.9 783.3Z"/>
<circle cx="1784.8" cy="825" r="42"/>
<circle cx="1784.8" cy="825" r="24"/>
<circle cx="1784.8" cy="825" r="20"/>
<circle cx="1784.8" cy="825" r="11.2"/>
<path d="M2186.8 775.5L2186.8 1360.9"/>
<path d="M2186.8 775.5L2368.2 775.5"/>
<path d="M2186.8 1360.9L2368.2 1360.9"/>
<path d="M2380.5 796.4L2380.5 1340"/>
<path d="M2355.6 845.6Q2380.8 1068.2 2355.6 1290.8"/>
<path d="M2086 1322.3L1557 1322.3Q1550 1322.8 1548.5 1334.2L1538.7 1366.4Q1534 1383.5 1524 1385.2L1478.5 1385.6"/>
<path d="M1548.5 1334.2L2086 1334.2"/>
<path d="M1526 1383.5L2086 1383.5"/>
<path d="M1464.5 1398.3L1464.5 1386.9L1608.5 1386.9L1610 1385.5L1879 1385.5L1880.5 1386.9L2086 1386.9L2086 1398.3Z"/>
<path d="M1483.4 1386.9L1483.4 1398.3"/>
<path d="M2066.4 1386.9L2066.4 1398.3"/>
<path d="M2086 1322.3L2086 1387"/>
<path d="M2699.5 848L2699.5 687Q2699.7 681 2704.4 679.3L2736.6 669.5A634.6 634.6 0 0 1 3109.8 669.5L3142 679.3Q3146.7 681 3146.9 687L3146.9 848"/>
<path d="M2699.5 687.8L2738.5 677.3A634.6 634.6 0 0 1 3107.9 677.3L3146.9 687.8"/>
<path d="M2738.5 669L2738.5 822"/>
<path d="M3107.9 669L3107.9 822"/>
<path d="M2699.5 740.2L2837.3 740.2"/>
<path d="M3008.8 740.2L3146.3 740.2"/>
<path d="M2757.5 816.4L2758.7 823"/>
<path d="M3088.9 816.4L3087.7 823"/>
<rect x="3146.3" y="782.2" width="4.4" height="85.4"/>
<rect x="3150.7" y="782.2" width="45.1" height="85.4"/>
<path d="M3161.7 782.2L3161.7 867.6"/>
<path d="M3193.4 782.2L3193.4 867.6"/>
<path d="M3150.7 820.5L3195.8 820.5"/>
<path d="M3150.7 831L3195.8 831"/>
<path d="M3195.8 784Q3209 795 3208.8 825Q3209 855 3195.8 866"/>
<path d="M2923.2 796.2C2899.9 796.2 2876.2 797.4 2853.2 799.6C2830.2 801.8 2804.4 805.7 2785.2 809.5C2766 813.3 2752.5 815.8 2738.2 822.2C2723.9 828.6 2708.7 839.7 2699.5 847.9C2690.3 856.1 2687.9 861.9 2682.8 871.6C2677.7 881.3 2674.6 893.4 2669 906C2663.4 918.6 2654.9 930.6 2649.3 947.4C2643.7 964.2 2638.7 986.5 2635.5 1006.6C2632.3 1026.7 2630 1047.7 2630 1068.2C2630 1088.7 2632.3 1109.7 2635.5 1129.8C2638.7 1149.9 2643.7 1172.2 2649.3 1189C2654.9 1205.8 2663.4 1217.8 2669 1230.4C2674.6 1243 2677.7 1255.1 2682.8 1264.8C2687.9 1274.5 2690.3 1280.3 2699.5 1288.5C2708.7 1296.7 2723.9 1307.8 2738.2 1314.2C2752.5 1320.6 2766 1323.1 2785.2 1326.9C2804.4 1330.7 2830.2 1334.6 2853.2 1336.8C2876.2 1339 2899.9 1340.2 2923.2 1340.2C2946.5 1340.2 2970.2 1339 2993.2 1336.8C3016.2 1334.6 3042 1330.7 3061.2 1326.9C3080.4 1323.1 3093.9 1320.6 3108.2 1314.2C3122.5 1307.8 3137.7 1296.7 3146.9 1288.5C3156.1 1280.3 3158.5 1274.5 3163.6 1264.8C3168.7 1255.1 3171.8 1243 3177.4 1230.4C3183 1217.8 3191.5 1205.8 3197.1 1189C3202.7 1172.2 3207.7 1149.9 3210.9 1129.8C3214.1 1109.7 3216.4 1088.7 3216.4 1068.2C3216.4 1047.7 3214.1 1026.7 3210.9 1006.6C3207.7 986.5 3202.7 964.2 3197.1 947.4C3191.5 930.6 3183 918.6 3177.4 906C3171.8 893.4 3168.7 881.3 3163.6 871.6C3158.5 861.9 3156.1 856.1 3146.9 847.9C3137.7 839.7 3122.5 828.6 3108.2 822.2C3093.9 815.8 3080.4 813.3 3061.2 809.5C3042 805.7 3016.2 801.8 2993.2 799.6C2970.2 797.4 2946.5 796.2 2923.2 796.2Z" fill="#fff"/>
<path d="M2923.2 802.7C2896.5 802.7 2870.8 803.9 2843.2 807.2C2815.6 810.5 2775.9 818.4 2757.7 822.4C2739.5 826.4 2741.9 827.1 2734 831.2C2726.1 835.3 2717.3 841.1 2710.4 847C2703.5 852.9 2697.7 858.5 2692.6 866.7C2687.5 874.9 2683.1 885.8 2679.8 896.3C2676.5 906.8 2675.4 916.3 2672.9 929.8C2670.4 943.3 2667.3 959.4 2665 977.1C2662.7 994.8 2660.3 1021 2659.1 1036.2C2657.9 1051.4 2657.6 1057.5 2657.6 1068.2C2657.6 1078.9 2657.9 1085 2659.1 1100.2C2660.3 1115.4 2662.7 1141.6 2665 1159.3C2667.3 1177 2670.4 1193.1 2672.9 1206.6C2675.4 1220.1 2676.5 1229.6 2679.8 1240.1C2683.1 1250.6 2687.5 1261.5 2692.6 1269.7C2697.7 1277.9 2703.5 1283.5 2710.4 1289.4C2717.3 1295.3 2726.1 1301.1 2734 1305.2C2741.9 1309.3 2739.5 1310 2757.7 1314C2775.9 1318 2815.6 1325.9 2843.2 1329.2C2870.8 1332.5 2896.5 1333.7 2923.2 1333.7C2949.9 1333.7 2975.6 1332.5 3003.2 1329.2C3030.8 1325.9 3070.5 1318 3088.7 1314C3106.9 1310 3104.5 1309.3 3112.4 1305.2C3120.3 1301.1 3129.1 1295.3 3136 1289.4C3142.9 1283.5 3148.7 1277.9 3153.8 1269.7C3158.9 1261.5 3163.3 1250.6 3166.6 1240.1C3169.9 1229.6 3171 1220.1 3173.5 1206.6C3176 1193.1 3179.1 1177 3181.4 1159.3C3183.7 1141.6 3186.1 1115.4 3187.3 1100.2C3188.5 1085 3188.8 1078.9 3188.8 1068.2C3188.8 1057.5 3188.5 1051.4 3187.3 1036.2C3186.1 1021 3183.7 994.8 3181.4 977.1C3179.1 959.4 3176 943.3 3173.5 929.8C3171 916.3 3169.9 906.8 3166.6 896.3C3163.3 885.8 3158.9 874.9 3153.8 866.7C3148.7 858.5 3142.9 852.9 3136 847C3129.1 841.1 3120.3 835.3 3112.4 831.2C3104.5 827.1 3106.9 826.4 3088.7 822.4C3070.5 818.4 3030.8 810.5 3003.2 807.2C2975.6 803.9 2949.9 802.7 2923.2 802.7Z"/>
<path d="M2664.2 910.2C2662.1 916.5 2656.1 931.6 2651.7 947.7C2647.3 963.8 2641.2 986.7 2638 1006.8C2634.8 1026.9 2632.5 1047.7 2632.5 1068.2C2632.5 1088.7 2634.8 1109.5 2638 1129.6C2641.2 1149.7 2647.3 1172.6 2651.7 1188.7C2656.1 1204.8 2662.1 1220 2664.2 1226.2"/>
<path d="M2665.2 940.2C2664.4 942.4 2662.1 946 2660.7 953.2C2659.3 960.4 2658.1 969 2656.7 983.2C2655.3 997.4 2653.1 1024 2652.2 1038.2C2651.2 1052.4 2651 1058.2 2651 1068.2C2651 1078.2 2651.2 1084 2652.2 1098.2C2653.1 1112.4 2655.3 1139 2656.7 1153.2C2658.1 1167.4 2659.3 1176 2660.7 1183.2C2662.1 1190.4 2664.4 1194 2665.2 1196.2"/>
<path d="M2654.7 957.4L2660.2 957.4"/>
<path d="M2654.7 1179L2660.2 1179"/>
<path d="M2649.1 972.2L2657.9 972.2"/>
<path d="M2649.1 1164.2L2657.9 1164.2"/>
<path d="M2647.4 977.2L2657.2 977.2"/>
<path d="M2647.4 1159.2L2657.2 1159.2"/>
<path d="M2640 1003.7L2654.1 1003.7"/>
<path d="M2640 1132.7L2654.1 1132.7"/>
<path d="M2639 1008.6L2653.7 1008.6"/>
<path d="M2639 1127.8L2653.7 1127.8"/>
<path d="M2634.7 1035.2L2651.8 1035.2"/>
<path d="M2634.7 1101.2L2651.8 1101.2"/>
<path d="M2634.1 1040.2L2651.6 1040.2"/>
<path d="M2634.1 1096.2L2651.6 1096.2"/>
<path d="M2632.9 1060.9L2651 1060.9"/>
<path d="M2632.9 1075.5L2651 1075.5"/>
<path d="M2632.8 1065.8L2651 1065.8"/>
<path d="M2632.8 1070.6L2651 1070.6"/>
<rect x="2633.2" y="1065.8" width="17.5" height="5.9"/>
<path d="M2679.8 869.7L2682.8 871.7L2661.1 912L2658.2 910Z"/>
<path d="M2670 873.6Q2660 876 2656.2 886.4L2655.8 901.2L2659.5 903"/>
<path d="M2679.8 1266.7L2682.8 1264.7L2661.1 1224.4L2658.2 1226.4Z"/>
<path d="M2670 1262.8Q2660 1260.4 2656.2 1250L2655.8 1235.2L2659.5 1233.4"/>
<path d="M3182.2 910.2C3184.3 916.5 3190.3 931.6 3194.7 947.7C3199.1 963.8 3205.2 986.7 3208.4 1006.8C3211.6 1026.9 3213.9 1047.7 3213.9 1068.2C3213.9 1088.7 3211.6 1109.5 3208.4 1129.6C3205.2 1149.7 3199.1 1172.6 3194.7 1188.7C3190.3 1204.8 3184.3 1220 3182.2 1226.2"/>
<path d="M3181.2 940.2C3181.9 942.4 3184.3 946 3185.7 953.2C3187.1 960.4 3188.3 969 3189.7 983.2C3191.1 997.4 3193.2 1024 3194.2 1038.2C3195.1 1052.4 3195.4 1058.2 3195.4 1068.2C3195.4 1078.2 3195.1 1084 3194.2 1098.2C3193.2 1112.4 3191.1 1139 3189.7 1153.2C3188.3 1167.4 3187.1 1176 3185.7 1183.2C3184.3 1190.4 3181.9 1194 3181.2 1196.2"/>
<path d="M3191.7 957.4L3186.2 957.4"/>
<path d="M3191.7 1179L3186.2 1179"/>
<path d="M3197.3 972.2L3188.5 972.2"/>
<path d="M3197.3 1164.2L3188.5 1164.2"/>
<path d="M3199 977.2L3189.2 977.2"/>
<path d="M3199 1159.2L3189.2 1159.2"/>
<path d="M3206.4 1003.7L3192.3 1003.7"/>
<path d="M3206.4 1132.7L3192.3 1132.7"/>
<path d="M3207.4 1008.6L3192.7 1008.6"/>
<path d="M3207.4 1127.8L3192.7 1127.8"/>
<path d="M3211.7 1035.2L3194.6 1035.2"/>
<path d="M3211.7 1101.2L3194.6 1101.2"/>
<path d="M3212.3 1040.2L3194.8 1040.2"/>
<path d="M3212.3 1096.2L3194.8 1096.2"/>
<path d="M3213.5 1060.9L3195.4 1060.9"/>
<path d="M3213.5 1075.5L3195.4 1075.5"/>
<path d="M3213.6 1065.8L3195.4 1065.8"/>
<path d="M3213.6 1070.6L3195.4 1070.6"/>
<rect x="3195.7" y="1065.8" width="17.5" height="5.9"/>
<path d="M3166.6 869.7L3163.6 871.7L3185.3 912L3188.2 910Z"/>
<path d="M3176.4 873.6Q3186.4 876 3190.2 886.4L3190.6 901.2L3186.9 903"/>
<path d="M3166.6 1266.7L3163.6 1264.7L3185.3 1224.4L3188.2 1226.4Z"/>
<path d="M3176.4 1262.8Q3186.4 1260.4 3190.2 1250L3190.6 1235.2L3186.9 1233.4"/>
<path d="M2789.2 1334.5Q2853.2 1356 2923.2 1357.3Q2993.2 1356 3057.2 1334.5"/>
<path d="M2789.2 1339.5Q2838.2 1355 2884.2 1358"/>
<path d="M3057.2 1339.5Q3008.2 1355 2962.2 1358"/>
<path d="M3018.8 1336.3L3018.8 1345.7"/>
<path d="M2827.6 1336.3L2827.6 1345.7"/>
<path d="M3013.8 1336.6L3013.8 1346.9"/>
<path d="M2832.6 1336.6L2832.6 1346.9"/>
<path d="M2988.2 1338.1L2988.2 1351.9"/>
<path d="M2858.2 1338.1L2858.2 1351.9"/>
<path d="M2983.3 1338.3L2983.3 1352.7"/>
<path d="M2863.1 1338.3L2863.1 1352.7"/>
<path d="M2956.7 1339.2L2956.7 1355.9"/>
<path d="M2889.7 1339.2L2889.7 1355.9"/>
<path d="M2951.8 1339.3L2951.8 1356.3"/>
<path d="M2894.6 1339.3L2894.6 1356.3"/>
<path d="M2926.2 1339.6L2926.2 1357.3"/>
<path d="M2920.2 1339.6L2920.2 1357.3"/>
<path d="M2920.3 1339.6L2920.3 1357.3"/>
<path d="M2926.1 1339.6L2926.1 1357.3"/>
<path d="M2837.3 727.3L2849.5 719.3L2997 719.3L3008.8 727.3L3008.8 772.4L2997 787.6L2849.5 787.6L2837.3 772.4Z"/>
<path d="M2880.5 726.8L2880.5 773.2"/>
<path d="M2965.4 726.8L2965.4 773.2"/>
<path d="M2837.3 727.3Q2856 715 2880.5 726.8Q2923 713 2965.4 726.8Q2990 715 3008.8 727.3"/>
<path d="M2837.3 772.4Q2858 798 2880.5 773.2Q2923 798 2965.4 773.2Q2988 798 3008.8 772.4"/>
<path d="M2851.5 787.6L2851.5 800.3"/>
<path d="M2994.6 787.6L2994.6 800.3"/>
<circle cx="2730.9" cy="875.8" r="27.5"/>
<circle cx="2730.9" cy="875.8" r="24.6"/>
<circle cx="2730.9" cy="875.8" r="18.7"/>
<path d="M2745.1 875.8L2738 888.1L2723.8 888.1L2716.7 875.8L2723.8 863.5L2738 863.5Z"/>
<circle cx="2730.9" cy="1260.3" r="27.5"/>
<circle cx="2730.9" cy="1260.3" r="24.6"/>
<circle cx="2730.9" cy="1260.3" r="18.7"/>
<path d="M2743.2 1267.4L2730.9 1274.5L2718.6 1267.4L2718.6 1253.2L2730.9 1246.1L2743.2 1253.2Z"/>
<circle cx="3115.2" cy="875.8" r="27.5"/>
<circle cx="3115.2" cy="875.8" r="24.6"/>
<circle cx="3115.2" cy="875.8" r="18.7"/>
<path d="M3127.5 882.9L3115.2 890L3102.9 882.9L3102.9 868.7L3115.2 861.6L3127.5 868.7Z"/>
<circle cx="3115.2" cy="1260.3" r="27.5"/>
<circle cx="3115.2" cy="1260.3" r="24.6"/>
<circle cx="3115.2" cy="1260.3" r="18.7"/>
<path d="M3127.5 1267.4L3115.2 1274.5L3102.9 1267.4L3102.9 1253.2L3115.2 1246.1L3127.5 1253.2Z"/>
<path d="M2868.5 972.9L2868.5 940.5A58 58 0 1 1 2977.9 940.5L2977.9 972.9L3032 1068.2L2977.9 1163.4L2868.5 1163.4L2814.2 1068.2Z"/>
<path d="M2872 980.2L2974.4 980.2L3023.6 1068.2L2974.4 1155.2L2872 1155.2L2822.8 1068.2Z"/>
<circle cx="2923.2" cy="919.3" r="40.8"/>
<circle cx="2923.2" cy="919.3" r="28.7"/>
<circle cx="2923.2" cy="919.3" r="25.5"/>
<path d="M2945.4 919.3L2934.3 938.5L2912.1 938.5L2901 919.3L2912.1 900.1L2934.3 900.1Z"/>
<path d="M2943.2 919.3L2933.2 936.6L2913.2 936.6L2903.2 919.3L2913.2 902L2933.2 902Z"/>
<path d="M2853.8 919.3L2992.6 919.3"/>
<circle cx="2923.2" cy="1068.2" r="71.6"/>
<circle cx="2923.2" cy="1068.2" r="68.4"/>
<circle cx="2923.2" cy="1068.2" r="64.7"/>
<circle cx="2923.2" cy="1068.2" r="61.1"/>
<circle cx="2923.2" cy="1068.2" r="58.4"/>
<circle cx="2923.2" cy="1068.2" r="54.8"/>
<circle cx="2923.2" cy="1068.2" r="48.6"/>
<circle cx="2923.2" cy="1068.2" r="39.8"/>
<circle cx="2923.2" cy="1068.2" r="31.6"/>
<circle cx="2923.2" cy="1068.2" r="30.9"/>
<circle cx="2923.2" cy="1068.2" r="29.7"/>
<circle cx="2923.2" cy="1068.2" r="16.3"/>
<circle cx="2923.2" cy="1068.2" r="15"/>
<circle cx="2923.2" cy="1068.2" r="10.9"/>
<circle cx="2923.2" cy="1068.2" r="7.5"/>
<path d="M2949.3 1075.2L2930.2 1094.3L2904.1 1087.3L2897.1 1061.2L2916.2 1042.1L2942.3 1049.1Z"/>
<path d="M2947.2 1068.2L2935.2 1089L2911.2 1089L2899.2 1068.2L2911.2 1047.4L2935.2 1047.4Z"/>
<path d="M2618.3 1385.8L2725.1 1385.8L2734 1334.5Q2736 1323 2746 1322.7L2763.6 1322.7L2763.6 1334.5"/>
<path d="M2618.3 1398L2726 1398Q2736 1397 2738 1385L2745.8 1338Q2746 1334.7 2749 1334.5L2775.4 1334.5Q2777.4 1334.7 2777.4 1337L2777.4 1360Q2778 1371 2790 1371.6L2923.2 1371.6"/>
<path d="M2789.2 1334.5L2789.2 1356.5Q2789.4 1359.6 2792.5 1359.7L2923.2 1359.7"/>
<path d="M2618.3 1385.8L2618.3 1398"/>
<path d="M2637.4 1385.8L2637.4 1398"/>
<path d="M2705.4 1385.8L2705.4 1398"/>
<path d="M3228.1 1385.8L3121.3 1385.8L3112.4 1334.5Q3110.4 1323 3100.4 1322.7L3082.8 1322.7L3082.8 1334.5"/>
<path d="M3228.1 1398L3120.4 1398Q3110.4 1397 3108.4 1385L3100.6 1338Q3100.4 1334.7 3097.4 1334.5L3071 1334.5Q3069 1334.7 3069 1337L3069 1360Q3068.4 1371 3056.4 1371.6L2923.2 1371.6"/>
<path d="M3057.2 1334.5L3057.2 1356.5Q3057 1359.6 3053.9 1359.7L2923.2 1359.7"/>
<path d="M3228.1 1385.8L3228.1 1398"/>
<path d="M3209 1385.8L3209 1398"/>
<path d="M3141 1385.8L3141 1398"/>
<path d="M446.5 1068.2L524.5 1068.2"/>
<path d="M520.1 1068.2L2330 1068.2" stroke-dasharray="50.5 8.7 10.8 9"/>
<path d="M2336 1068.2L2398.8 1068.2"/>
<path d="M2613.3 1068.2L3235.3 1068.2" stroke-dasharray="50.5 8.7 10.8 9" stroke-dashoffset="20"/>
<path d="M2923.2 626L2923.2 1387" stroke-dasharray="50.5 8.7 10.8 9" stroke-dashoffset="0"/>
<path d="M524.5 615L524.5 1671"/>
<path d="M524.5 639.4L1329.3 639.4"/>
<path d="M524.5 639.4L570.5 633.4L570.5 645.4Z" fill="#000" stroke="none"/>
<path d="M1329.3 639.4L1283.3 645.4L1283.3 633.4Z" fill="#000" stroke="none"/>
<text transform="translate(900 629.4) scale(0.5 1)" font-size="58" letter-spacing="15" text-anchor="start">207</text>
<path d="M374 719L1403.6 719"/>
<path d="M374 1398.3L2086 1398.3"/>
<path d="M398.3 719L398.3 1398.3"/>
<path d="M398.3 719L404.3 765L392.3 765Z" fill="#000" stroke="none"/>
<path d="M398.3 1398.3L392.3 1352.3L404.3 1352.3Z" fill="#000" stroke="none"/>
<text transform="translate(388.7 1088.5) rotate(-90) scale(0.5 1)" font-size="58" letter-spacing="15" text-anchor="start">175</text>
<path d="M470.5 1068.2L470.5 1398.3"/>
<path d="M470.5 1068.2L476.5 1114.2L464.5 1114.2Z" fill="#000" stroke="none"/>
<path d="M470.5 1398.3L464.5 1352.3L476.5 1352.3Z" fill="#000" stroke="none"/>
<text transform="translate(461.5 1250.5) rotate(-90) scale(0.5 1)" font-size="58" letter-spacing="15" text-anchor="start">85</text>
<path d="M408.1 1009L483.6 1009L524.3 1068.2"/>
<path d="M524.3 1068.2L493.3 1033.7L503.2 1026.9Z" fill="#000" stroke="none"/>
<text transform="translate(406.7 988) scale(0.5 1)" font-size="58" letter-spacing="4" text-anchor="start">G1</text>
<text transform="translate(447.5 963) scale(0.5 1)" font-size="41" letter-spacing="0" text-anchor="start">1</text>
<path d="M447.7 969.5L459.2 969.5"/>
<text transform="translate(447 999.8) scale(0.5 1)" font-size="41" letter-spacing="0" text-anchor="start">4</text>
<path d="M1467 653.5L1400 653.5L1329.3 718.7"/>
<path d="M1329.3 718.7L1359 683.1L1367.2 691.9Z" fill="#000" stroke="none"/>
<text transform="translate(1432 643.5) scale(0.5 1)" font-size="58" letter-spacing="4" text-anchor="start">G1</text>
<path d="M2368.2 775.5L2510 775.5"/>
<path d="M2368.2 1360.9L2510 1360.9"/>
<path d="M2485.2 775.5L2485.2 1360.9"/>
<path d="M2485.2 775.5L2491.2 821.5L2479.2 821.5Z" fill="#000" stroke="none"/>
<path d="M2485.2 1360.9L2479.2 1314.9L2491.2 1314.9Z" fill="#000" stroke="none"/>
<text transform="translate(2476 1097.4) rotate(-90) scale(0.5 1)" font-size="58" letter-spacing="15" text-anchor="start">151</text>
<path d="M1557.6 1387L1557.6 1489.4"/>
<path d="M1930.5 1387L1930.5 1489.4"/>
<path d="M524.5 1465.8L1930.5 1465.8"/>
<path d="M524.5 1465.8L570.5 1459.8L570.5 1471.8Z" fill="#000" stroke="none"/>
<path d="M1557.6 1465.8L1511.6 1471.8L1511.6 1459.8Z" fill="#000" stroke="none"/>
<path d="M1557.6 1465.8L1603.6 1459.8L1603.6 1471.8Z" fill="#000" stroke="none"/>
<path d="M1930.5 1465.8L1884.5 1471.8L1884.5 1459.8Z" fill="#000" stroke="none"/>
<text transform="translate(1013.2 1456.4) scale(0.5 1)" font-size="58" letter-spacing="15" text-anchor="start">266</text>
<text transform="translate(1726.6 1456.8) scale(0.5 1)" font-size="58" letter-spacing="15" text-anchor="start">96</text>
<path d="M1464.5 1398.3L1464.5 1562.5"/>
<path d="M2086 1398.3L2086 1562.5"/>
<path d="M1464.5 1539.9L2086 1539.9"/>
<path d="M1464.5 1539.9L1510.5 1533.9L1510.5 1545.9Z" fill="#000" stroke="none"/>
<path d="M2086 1539.9L2040 1545.9L2040 1533.9Z" fill="#000" stroke="none"/>
<text transform="translate(1746 1529.7) scale(0.5 1)" font-size="58" letter-spacing="15" text-anchor="start">160</text>
<path d="M2380.5 1340L2380.5 1670"/>
<path d="M524.5 1646.1L2380.5 1646.1"/>
<path d="M524.5 1646.1L570.5 1640.1L570.5 1652.1Z" fill="#000" stroke="none"/>
<path d="M2380.5 1646.1L2334.5 1652.1L2334.5 1640.1Z" fill="#000" stroke="none"/>
<text transform="translate(1424 1637.6) scale(0.5 1)" font-size="58" letter-spacing="15" text-anchor="start">478</text>
<path d="M1930.5 1399L2174.3 1530.7L2340.7 1530.7"/>
<path d="M1930.5 1399L1973.8 1415.6L1968.1 1426.1Z" fill="#000" stroke="none"/>
<text transform="translate(2204.8 1521) scale(0.5 1)" font-size="58" letter-spacing="15" text-anchor="start">4</text>
<path d="M2234.5 1495.5L2248.5 1509.5M2248.5 1495.5L2234.5 1509.5" stroke-width="2"/>
<text transform="translate(2263 1521.5) scale(0.62 1)" font-size="56" style="font-family:'Liberation Sans',sans-serif;stroke-width:0.3px">Ø</text>
<text transform="translate(2297.5 1521) scale(0.5 1)" font-size="58" letter-spacing="10" text-anchor="start">10</text>
<path d="M2898 641.2L3344.5 641.2"/>
<path d="M3227.1 1398L3344.5 1398"/>
<path d="M3321.5 641.2L3321.5 1398"/>
<path d="M3321.5 641.2L3327.5 687.2L3315.5 687.2Z" fill="#000" stroke="none"/>
<path d="M3321.5 1398L3315.5 1352L3327.5 1352Z" fill="#000" stroke="none"/>
<text transform="translate(3311.5 1049.8) rotate(-90) scale(0.5 1)" font-size="58" letter-spacing="15" text-anchor="start">195</text>
<path d="M2680.7 1385.8L2680.7 1489.5"/>
<path d="M3165 1385.8L3165 1489.5"/>
<path d="M2680.7 1465.8L3165 1465.8"/>
<path d="M2680.7 1465.8L2726.7 1459.8L2726.7 1471.8Z" fill="#000" stroke="none"/>
<path d="M3165 1465.8L3119 1471.8L3119 1459.8Z" fill="#000" stroke="none"/>
<text transform="translate(2893 1457) scale(0.5 1)" font-size="58" letter-spacing="15" text-anchor="start">125</text>
<path d="M2618.3 1398L2618.3 1562.8"/>
<path d="M3227.1 1398L3227.1 1562.8"/>
<path d="M2618.3 1539.6L3227.1 1539.6"/>
<path d="M2618.3 1539.6L2664.3 1533.6L2664.3 1545.6Z" fill="#000" stroke="none"/>
<path d="M3227.1 1539.6L3181.1 1545.6L3181.1 1533.6Z" fill="#000" stroke="none"/>
<text transform="translate(2893 1530.5) scale(0.5 1)" font-size="58" letter-spacing="15" text-anchor="start">157</text>
<text transform="translate(457.9 162) scale(0.415 1)" font-size="85" text-anchor="middle">C</text>
<text transform="translate(485 162) scale(0.38 1)" font-size="85" text-anchor="middle">H</text>
<text transform="translate(512.5 162) scale(0.39 1)" font-size="85" text-anchor="middle">M</text>
<text transform="translate(539 162) scale(0.52 1)" font-size="85" text-anchor="middle">5</text>
<text transform="translate(566 162) scale(0.56 1)" font-size="85" text-anchor="middle">−</text>
<text transform="translate(593 162) scale(0.5 1)" font-size="85" text-anchor="middle">7</text>
<text transform="translate(621.3 162) scale(0.5 1)" font-size="85" text-anchor="middle">0</text>
<text transform="translate(674 162) scale(0.52 1)" font-size="85" text-anchor="middle">5</text>
<text transform="translate(702.8 162) scale(0.5 1)" font-size="85" text-anchor="middle">0</text>
<text transform="translate(728 162) scale(0.38 1)" font-size="85" text-anchor="middle">H</text>
<text transform="translate(754.1 162) scale(0.48 1)" font-size="85" text-anchor="middle">Z</text>
</svg></body></html>
